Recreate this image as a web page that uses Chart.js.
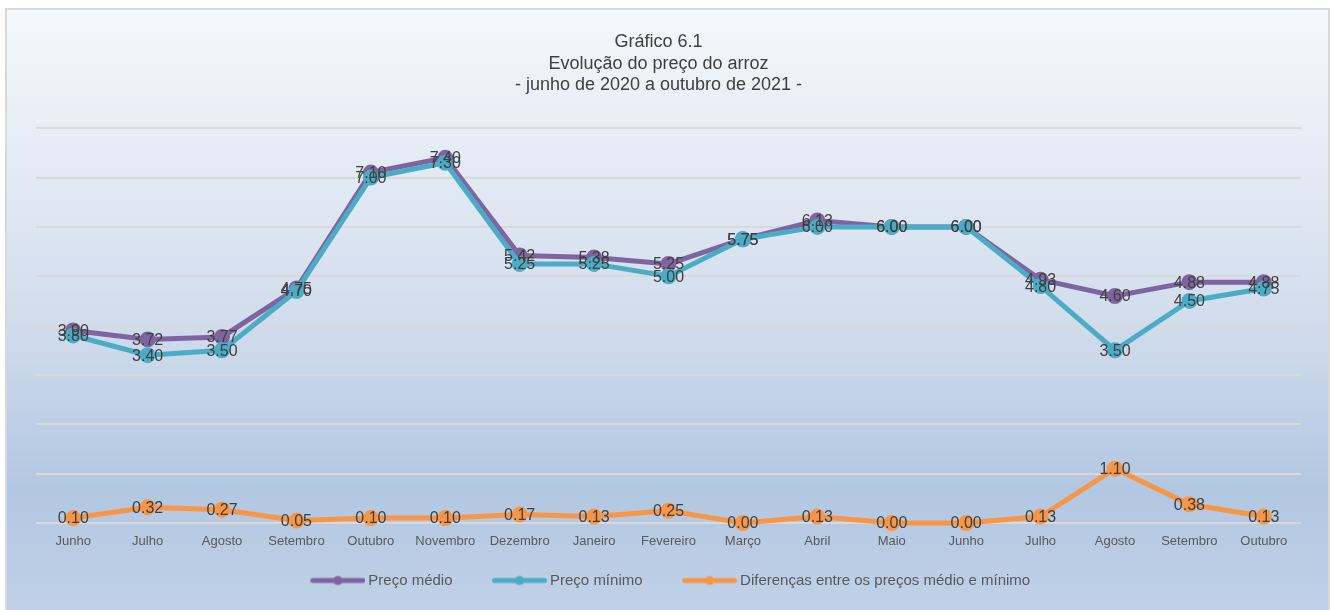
<!DOCTYPE html>
<html>
<head>
<meta charset="utf-8">
<script src="https://cdn.jsdelivr.net/npm/chart.js@4.4.1/dist/chart.umd.min.js"></script>
<style>
html,body{margin:0;padding:0;background:#ffffff;}
#wrap{position:relative;width:1331px;height:610px;}
</style>
</head>
<body>
<div id="wrap"><canvas id="c" width="1331" height="610"></canvas></div>
<script>
// ---- data ----
const categories = ['Junho','Julho','Agosto','Setembro','Outubro','Novembro','Dezembro','Janeiro','Fevereiro','Março','Abril','Maio','Junho','Julho','Agosto','Setembro','Outubro'];
const precoMedio = [3.90, 3.72, 3.77, 4.75, 7.10, 7.40, 5.42, 5.38, 5.25, 5.75, 6.13, 6.00, 6.00, 4.93, 4.60, 4.88, 4.88];
const precoMinimo = [3.80, 3.40, 3.50, 4.70, 7.00, 7.30, 5.25, 5.25, 5.00, 5.75, 6.00, 6.00, 6.00, 4.80, 3.50, 4.50, 4.75];
const diferencas = [0.10, 0.32, 0.27, 0.05, 0.10, 0.10, 0.17, 0.13, 0.25, 0.00, 0.13, 0.00, 0.00, 0.13, 1.10, 0.38, 0.13];
const seriesNames = ['Preço médio', 'Preço mínimo', 'Diferenças entre os preços médio e mínimo'];
const titleLines = ['Gráfico 6.1', 'Evolução do preço do arroz', '- junho de 2020 a outubro de 2021 -'];
const yMin = 0, yMax = 8, yStep = 1;

const COLORS = ['#8064a2', '#4bacc6', '#f79646'];
const FONT = '"Liberation Sans", Arial, sans-serif';

function legendImage(color) {
  const W = 89, H = 12, L = 34;
  const c = document.createElement('canvas');
  c.width = W; c.height = H;
  const x = c.getContext('2d');
  x.strokeStyle = color; x.lineWidth = 5; x.lineCap = 'round';
  x.beginPath(); x.moveTo(L + 2.5, H / 2); x.lineTo(W - 2.5, H / 2); x.stroke();
  x.fillStyle = color;
  x.beginPath(); x.arc(L + (W - L) / 2, H / 2, 4.6, 0, Math.PI * 2); x.fill();
  return c;
}
const legendImgs = COLORS.map(legendImage);

const bgPlugin = {
  id: 'bg',
  beforeDraw(chart) {
    const ctx = chart.ctx;
    ctx.save();
    ctx.fillStyle = '#ffffff';
    ctx.fillRect(0, 0, chart.width, chart.height);
    const g = ctx.createLinearGradient(0, 9, 0, 610);
    g.addColorStop(0, '#f5f8fc');
    g.addColorStop(0.5, '#d3deed');
    g.addColorStop(0.8, '#b2c7e1');
    g.addColorStop(1, '#c0d1e7');
    ctx.fillStyle = g;
    ctx.fillRect(6, 9, 1323, 610);
    ctx.strokeStyle = '#d9d9d9';
    ctx.lineWidth = 2;
    ctx.strokeRect(6, 9, 1323, 620);
    ctx.restore();
  }
};

const boxShift = {
  id: 'boxShift',
  afterLayout(chart) {
    if (chart.legend) { chart.legend.left -= 13; chart.legend.right -= 13; }
    if (chart.titleBlock) { chart.titleBlock.left -= 10; chart.titleBlock.right -= 10; }
  }
};

const labelPlugin = {
  id: 'valueLabels',
  afterDatasetsDraw(chart) {
    const ctx = chart.ctx;
    ctx.save();
    ctx.font = '16px ' + FONT;
    ctx.fillStyle = '#404040';
    ctx.textAlign = 'center';
    ctx.textBaseline = 'middle';
    [0, 1, 2].forEach(di => {
      const meta = chart.getDatasetMeta(di);
      const data = chart.data.datasets[di].data;
      meta.data.forEach((pt, i) => {
        ctx.fillText(Number(data[i]).toFixed(2), pt.x, pt.y + 1);
      });
    });
    ctx.restore();
  }
};

function ds(label, data, color, order) {
  return {
    label, data, order,
    borderColor: color, backgroundColor: color,
    pointBackgroundColor: color, pointBorderColor: color,
    borderWidth: 5, pointRadius: 5.5, pointHoverRadius: 5.5,
    tension: 0, clip: false
  };
}

new Chart(document.getElementById('c'), {
  type: 'line',
  data: {
    labels: categories,
    datasets: [
      ds(seriesNames[0], precoMedio, COLORS[0], 2),
      ds(seriesNames[1], precoMinimo, COLORS[1], 1),
      ds(seriesNames[2], diferencas, COLORS[2], 0)
    ]
  },
  options: {
    responsive: false,
    animation: false,
    events: [],
    layout: { padding: { left: 36, right: 30, top: 0, bottom: 12 } },
    scales: {
      x: {
        offset: true,
        grid: { display: false },
        border: { display: false },
        ticks: { color: '#595959', font: { family: FONT, size: 13 }, padding: 3, maxRotation: 0, autoSkip: false },
        afterFit(s) { s.height = 40; }
      },
      y: {
        min: yMin, max: yMax,
        ticks: { display: false, stepSize: yStep },
        grid: { color: '#d9d9d9', lineWidth: 2, drawTicks: false },
        border: { display: false },
        afterFit(s) { s.width = 0; }
      }
    },
    plugins: {
      title: {
        display: true,
        text: titleLines,
        color: '#404040',
        font: { family: FONT, size: 18, weight: 'normal', lineHeight: 1.17 },
        padding: { top: 32, bottom: 33 }
      },
      legend: {
        display: true,
        position: 'bottom',
        labels: {
          color: '#595959',
          font: { family: FONT, size: 15 },
          usePointStyle: true,
          pointStyleWidth: 80,
          boxHeight: 12,
          padding: 10,
          generateLabels(chart) {
            return chart.data.datasets.map((d, i) => ({
              text: d.label,
              fillStyle: COLORS[i],
              strokeStyle: COLORS[i],
              fontColor: '#595959',
              lineWidth: 0,
              pointStyle: legendImgs[i],
              hidden: false,
              datasetIndex: i
            }));
          }
        }
      },
      tooltip: { enabled: false }
    }
  },
  plugins: [bgPlugin, boxShift, labelPlugin]
});
</script>
</body>
</html>
